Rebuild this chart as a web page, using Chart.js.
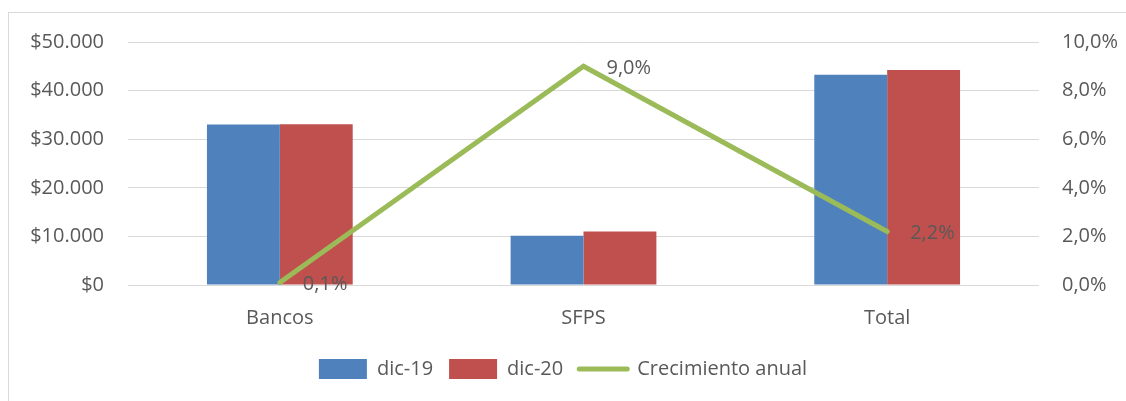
<!DOCTYPE html>
<html>
<head>
<meta charset="utf-8">
<script src="https://cdn.jsdelivr.net/npm/chart.js@4.4.0/dist/chart.umd.min.js"></script>
<style>
  body { margin: 0; background: #fff; overflow: hidden; }
  #frame { position: absolute; left: 8px; top: 12px; width: 1140px; height: 420px; border: 1px solid #d9d9d9; }
  #wrap { position: absolute; left: 0; top: 0; width: 1126px; height: 401px; }
</style>
</head>
<body>
<div id="frame"></div>
<div id="wrap"><canvas id="chart"></canvas></div>
<script>
const categories = ['Bancos', 'SFPS', 'Total'];
const dic19 = [33050, 10150, 43250];
const dic20 = [33100, 11000, 44250];
const crecimiento = [0.1, 9.0, 2.2];

const textColor = '#595959';
const fontFamily = '"Open Sans", Lato, sans-serif';
const fontSize = 20;

function money(v) {
  return '$' + String(v).replace(/\B(?=(\d{3})+(?!\d))/g, '.');
}
function pct(v) {
  return v.toFixed(1).replace('.', ',') + '%';
}

// labels next to the line points
const lineLabels = {
  id: 'lineLabels',
  afterDatasetsDraw(chart) {
    const ctx = chart.ctx;
    const meta = chart.getDatasetMeta(2);
    ctx.save();
    ctx.font = fontSize + 'px ' + fontFamily;
    ctx.fillStyle = textColor;
    ctx.textAlign = 'left';
    ctx.textBaseline = 'middle';
    meta.data.forEach((pt, i) => {
      ctx.fillText(pct(crecimiento[i]), pt.x + 23, pt.y + 2);
    });
    ctx.restore();
  }
};

new Chart(document.getElementById('chart'), {
  data: {
    labels: categories,
    datasets: [
      {
        type: 'bar',
        label: 'dic-19',
        data: dic19,
        backgroundColor: '#4F81BD',
        yAxisID: 'y',
        categoryPercentage: 0.48,
        barPercentage: 1,
        order: 2
      },
      {
        type: 'bar',
        label: 'dic-20',
        data: dic20,
        backgroundColor: '#C0504D',
        yAxisID: 'y',
        categoryPercentage: 0.48,
        barPercentage: 1,
        order: 2
      },
      {
        type: 'line',
        label: 'Crecimiento anual',
        data: crecimiento,
        borderColor: '#9BBB59',
        backgroundColor: '#9BBB59',
        borderWidth: 5,
        pointRadius: 0,
        borderCapStyle: 'round',
        yAxisID: 'y1',
        order: 1
      }
    ]
  },
  plugins: [lineLabels],
  options: {
    responsive: true,
    maintainAspectRatio: false,
    animation: false,
    layout: { padding: { left: 0, right: 0, top: 42, bottom: 12 } },
    plugins: {
      tooltip: { enabled: false },
      legend: {
        position: 'bottom',
        labels: {
          color: textColor,
          font: { family: fontFamily, size: fontSize },
          padding: 16,
          usePointStyle: true,
          pointStyleWidth: 48,
          boxHeight: 20,
          generateLabels(chart) {
            return chart.data.datasets.map((ds, i) => ({
              text: ds.label,
              fillStyle: ds.backgroundColor,
              strokeStyle: ds.backgroundColor,
              lineWidth: ds.type === 'line' ? 5 : 0,
              lineCap: 'round',
              pointStyle: ds.type === 'line' ? 'line' : 'rect',
              fontColor: textColor,
              datasetIndex: i,
              hidden: false
            }));
          }
        }
      }
    },
    scales: {
      x: {
        grid: { display: false },
        border: { display: false },
        ticks: { color: textColor, font: { family: fontFamily, size: fontSize }, padding: 13 }
      },
      y: {
        position: 'left',
        min: 0,
        max: 50000,
        grid: { color: '#d9d9d9', drawTicks: false },
        border: { display: false },
        afterFit: s => { s.width = 128; },
        ticks: {
          stepSize: 10000,
          color: textColor,
          font: { family: fontFamily, size: fontSize },
          padding: 24,
          callback: v => money(v)
        }
      },
      y1: {
        position: 'right',
        min: 0,
        max: 10,
        grid: { display: false, drawTicks: false },
        border: { display: false },
        afterFit: s => { s.width = 87; },
        ticks: {
          stepSize: 2,
          color: textColor,
          font: { family: fontFamily, size: fontSize },
          padding: 23,
          callback: v => pct(v)
        }
      }
    }
  }
});
</script>
</body>
</html>
